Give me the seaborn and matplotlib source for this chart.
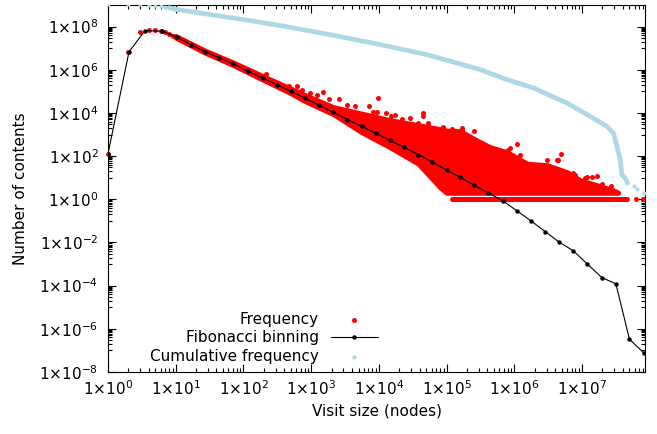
import numpy as np
import matplotlib
matplotlib.use("Agg")
import matplotlib.pyplot as plt
import seaborn as sns
from matplotlib.ticker import FixedLocator, FuncFormatter, LogLocator, NullFormatter

# ---------------- data ----------------
# Frequency: individual small sizes
freq_k = [1, 2, 3, 4, 5, 6, 7, 8, 9]
freq_n = [129, 6.7e6, 5.7e7, 7.3e7, 7.3e7, 6.1e7, 5.5e7, 4.75e7, 3.84e7]

# Frequency: dense cloud of points (upper / lower envelope of dot centres)
cloud_x = [10, 27, 71, 193, 500, 813, 2128, 5587, 1.46e4, 3.83e4, 8.02e4, 1.0e5,
           1.58e5, 3.12e5, 4.39e5, 7.83e5, 1.55e6, 3.05e6, 6.03e6, 9.38e6,
           1.67e7, 2.88e7, 3.41e7]
cloud_hi = [3.64e7, 7.74e6, 2.15e6, 5.08e5, 1.34e5, 6.68e4, 1.85e4, 9.27e3, 4.62e3,
            2.71e3, 1.77e3, 1.51e3, 1.43e3, 441, 259, 152, 44.4, 37.8, 17.9, 7.6,
            4.47, 2.62, 2.0]
cloud_lo = [3.10e7, 6.25e6, 1.64e6, 3.50e5, 8.26e4, 3.52e4, 8.77e3, 1.28e3, 259,
            44.4, 3.61, 2, 2, 2, 2, 2, 2, 2, 2, 2, 2, 2, 2]

# Frequency: scattered points above the dense cloud
out_x = [216, 317, 476, 613, 726, 963, 1235, 1514, 1838, 2584, 3357, 4450, 7244,
         8300, 9834, 9506, 1.28e4, 1.5e4, 1.75e4, 2.18e4, 2.89e4, 4.45e4, 4.45e4,
         3.83e4, 5.38e4, 6.38e4, 8.87e4, 1.19e5, 1.68e5, 1.68e5, 2.5e5, 4.39e5,
         8.18e5, 8.67e5, 1.1e6, 1.22e6, 2.15e6, 3.02e6, 4.22e6, 4.48e6, 4.91e6,
         7.46e6, 7.9e6, 1.11e7, 1.18e7, 1.41e7, 1.67e7, 1.96e7, 2.65e7]
out_n = [6.43e5, 2.46e5, 1.71e5, 1.71e5, 1.2e5, 8.45e4, 7.05e4, 9.0e4, 4.45e4,
         4.59e4, 2.42e4, 2.02e4, 2.18e4, 1.06e4, 5.12e4, 1.15e4, 9.97e3, 6.93e3,
         8.05e3, 5.43e3, 5.73e3, 9.97e3, 7.09e3, 3.43e3, 3.43e3, 2.07e3, 2.31e3,
         1.81e3, 1.68e3, 2.01e3, 1.51e3, 238, 198, 238, 356, 116, 40, 68, 68, 68,
         125, 16, 14, 10, 11, 11, 12, 5, 4]

# Frequency: sizes seen exactly once
ones_span_x = [1.19e5, 4.59e7]
ones_span_n = [1, 1]
ones_extra_x = [6.3e7, 7.9e7, 8.4e7]
ones_extra_n = [1, 1, 1]

# Fibonacci binning
fib_x = [1, 2.04, 3.52, 6.21, 10.35, 16.66, 27.1, 44.1, 70.9, 115, 193, 310, 500,
         813, 1322, 2128, 3427, 5587, 9000, 1.46e4, 2.36e4, 3.83e4, 6.17e4, 1.0e5,
         1.58e5, 2.58e5, 4.14e5, 6.76e5, 1.09e6, 1.75e6, 2.85e6, 4.59e6, 7.46e6,
         1.20e7, 1.96e7, 3.16e7, 5.01e7, 8.26e7]
fib_y = [129, 6.73e6, 6.55e7, 6.08e7, 3.34e7, 1.47e7, 6.95e6, 3.55e6, 1.87e6,
         8.49e5, 4.19e5, 2.05e5, 1.0e5, 4.75e4, 2.25e4, 1.06e4, 4.88e3, 2.39e3,
         1.13e3, 535, 253, 116, 53.2, 22.2, 10.7, 4.38, 1.94, 0.853, 0.294, 0.101,
         0.0321, 0.0104, 4.09e-3, 9.9e-4, 2.37e-4, 1.21e-4, 3.29e-7, 7.36e-8]

# Cumulative frequency
cum_dot_x = [1, 2, 3, 4, 5, 6, 7]
cum_dot_y = [1.07e9, 1.07e9, 1.06e9, 1.01e9, 9.4e8, 8.7e8, 8.1e8]
cum_x = [8, 10.35, 32.1, 99.7, 347, 1353, 2128, 1.04e4, 5.1e4, 3.12e5, 7.75e5,
         1.92e6, 5.96e6, 1.32e7, 2.32e7, 2.91e7, 3.27e7, 3.66e7, 3.87e7, 4.33e7,
         4.69e7]
cum_y = [7.5e8, 6.17e8, 3.61e8, 2.12e8, 1.12e8, 5.13e7, 3.96e7, 1.47e7, 5.05e6,
         1.02e6, 3.5e5, 1.44e5, 2.9e4, 6.93e3, 2.39e3, 1.18e3, 282, 68, 13.7, 9.6,
         5.65]
cum_tail_x = [5.94e7, 6.45e7, 8.3e7]
cum_tail_y = [4, 3, 2]

x_ticks = [1e0, 1e1, 1e2, 1e3, 1e4, 1e5, 1e6, 1e7]
y_ticks = [1e-8, 1e-6, 1e-4, 1e-2, 1e0, 1e2, 1e4, 1e6, 1e8]

# ---------------- style ----------------
sns.set_theme(style="ticks")
plt.rcParams["font.family"] = ["DejaVu Sans"]
plt.rcParams["font.size"] = 11
plt.rcParams["mathtext.fontset"] = "dejavusans"
plt.rcParams["text.color"] = "black"
plt.rcParams["axes.labelcolor"] = "black"

fig = plt.figure(figsize=(6.57, 4.34), dpi=100)
ax = fig.add_axes([108 / 657, 1 - 372 / 434, 537 / 657, 367 / 434])
ax.set_xscale("log")
ax.set_yscale("log")

RED = "#ff0000"
BLUE = "#add8e6"
DOT_PT = 3.6  # ~5 px

# Frequency
ax.fill_between(cloud_x, cloud_lo, cloud_hi, facecolor=RED, edgecolor=RED,
                linewidth=DOT_PT, joinstyle="round", zorder=2)
sns.lineplot(x=ones_span_x, y=ones_span_n, color=RED, lw=DOT_PT,
             solid_capstyle="round", ax=ax, zorder=2)
sns.scatterplot(x=out_x, y=out_n, color=RED, s=DOT_PT ** 2, linewidth=0, ax=ax,
                zorder=2)
sns.scatterplot(x=ones_extra_x, y=ones_extra_n, color=RED, s=DOT_PT ** 2,
                linewidth=0, ax=ax, zorder=2)
sns.scatterplot(x=freq_k, y=freq_n, color=RED, s=DOT_PT ** 2, linewidth=0, ax=ax,
                zorder=2, clip_on=False, label="Frequency")

# Fibonacci binning
sns.lineplot(x=fib_x, y=fib_y, color="black", lw=0.8, marker="o", markersize=3.2,
             markeredgewidth=0, ax=ax, zorder=3, label="Fibonacci binning")

# Cumulative frequency
sns.lineplot(x=cum_x, y=cum_y, color=BLUE, lw=3.4, solid_capstyle="round", ax=ax,
             zorder=4)
sns.scatterplot(x=cum_tail_x, y=cum_tail_y, color=BLUE, s=3.0 ** 2, linewidth=0,
                ax=ax, zorder=4)
sns.scatterplot(x=cum_dot_x, y=cum_dot_y, color=BLUE, s=3.0 ** 2, linewidth=0,
                ax=ax, zorder=4, label="Cumulative frequency")

ax.set_xlim(1, 8.5e7)
ax.set_ylim(1e-8, 1e9)

# ticks
def fmt(v, pos):
    e = int(round(np.log10(v)))
    return f"1×10$^{{{e}}}$"

ax.xaxis.set_major_locator(FixedLocator(x_ticks))
ax.xaxis.set_minor_locator(LogLocator(base=10, subs=np.arange(2, 10), numticks=30))
ax.xaxis.set_major_formatter(FuncFormatter(fmt))
ax.xaxis.set_minor_formatter(NullFormatter())
ax.yaxis.set_major_locator(FixedLocator(y_ticks))
y_minor = [m * 10.0 ** e for e in range(-7, 9, 2) for m in range(1, 10)]
ax.yaxis.set_minor_locator(FixedLocator(y_minor))
ax.yaxis.set_major_formatter(FuncFormatter(fmt))
ax.yaxis.set_minor_formatter(NullFormatter())

ax.tick_params(which="both", direction="in", top=True, right=True, colors="black",
               width=0.8, labelsize=11, labelcolor="black")
ax.tick_params(which="major", length=5.5)
ax.tick_params(which="minor", length=2.8)
ax.tick_params(axis="x", which="major", pad=5)
ax.tick_params(axis="y", which="major", pad=7)
for sp in ax.spines.values():
    sp.set_visible(True)
    sp.set_color("black")
    sp.set_linewidth(0.8)

ax.set_xlabel("Visit size (nodes)", fontsize=11, labelpad=4, color="black")
ax.set_ylabel("Number of contents", fontsize=11, labelpad=8, color="black")

handles, labels = ax.get_legend_handles_labels()
order = [labels.index(l) for l in ["Frequency", "Fibonacci binning", "Cumulative frequency"]]
leg = ax.legend([handles[i] for i in order], [labels[i] for i in order],
                loc="lower right", bbox_to_anchor=(0.503, 0.021), frameon=False,
                markerfirst=False, fontsize=11, handlelength=3.1, handletextpad=0.8,
                labelspacing=0.25, borderpad=0, borderaxespad=0, scatterpoints=1,
                numpoints=1)
for t in leg.get_texts():
    t.set_color("black")

fig.savefig("out.png", dpi=100)
